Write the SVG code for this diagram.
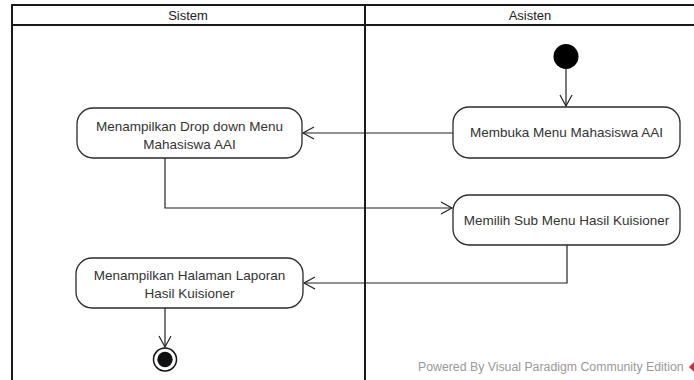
<svg xmlns="http://www.w3.org/2000/svg" width="694" height="380" viewBox="0 0 694 380">
<defs>
<style>
.lane{fill:none;stroke:#1a1a1a;stroke-width:2}
.act{fill:#fff;stroke:#2a2a2a;stroke-width:1.3}
.t{font-family:"Liberation Sans",Arial,sans-serif;font-size:13.5px;fill:#333;text-anchor:middle}
.h{font-family:"Liberation Sans",Arial,sans-serif;font-size:13px;fill:#222;text-anchor:middle}
.c{fill:none;stroke:#222;stroke-width:1.2}
</style>
<marker id="arr" markerWidth="14" markerHeight="14" refX="12" refY="7" orient="auto" markerUnits="userSpaceOnUse">
<path d="M1,1 L12,7 L1,13" fill="none" stroke="#222" stroke-width="1.2"/>
</marker>
</defs>
<rect width="694" height="380" fill="#fff"/>
<g id="lanes">
<path class="lane" d="M12,382 V5 H700 M12,25 H700 M365,5 V382"/>
<text class="h" x="188" y="20">Sistem</text>
<text class="h" x="530" y="20">Asisten</text>
</g>
<g id="connectors">
<path class="c" d="M566,69 V106" marker-end="url(#arr)"/>
<path class="c" d="M453,133 H303" marker-end="url(#arr)"/>
<path class="c" d="M165,158 V208 H452" marker-end="url(#arr)"/>
<path class="c" d="M567,245 V283 H304" marker-end="url(#arr)"/>
<path class="c" d="M165,308 V347" marker-end="url(#arr)"/>
</g>
<g id="start"><circle cx="566" cy="56.5" r="12.5" fill="#000"/></g>
<g id="membuka">
<rect class="act" x="453" y="107" width="227" height="51" rx="16"/>
<text class="t" x="566.5" y="137">Membuka Menu Mahasiswa AAI</text>
</g>
<g id="dropdown">
<rect class="act" x="77" y="108" width="225" height="50" rx="16"/>
<text class="t" x="189.5" y="131">Menampilkan Drop down Menu</text>
<text class="t" x="189.5" y="149">Mahasiswa AAI</text>
</g>
<g id="memilih">
<rect class="act" x="453" y="195" width="227" height="50" rx="16"/>
<text class="t" x="566.5" y="225">Memilih Sub Menu Hasil Kuisioner</text>
</g>
<g id="laporan">
<rect class="act" x="76" y="258" width="227" height="50" rx="16"/>
<text class="t" x="189.5" y="280">Menampilkan Halaman Laporan</text>
<text class="t" x="189.5" y="298">Hasil Kuisioner</text>
</g>
<g id="end">
<circle cx="165" cy="359.5" r="11.5" fill="#fff" stroke="#111" stroke-width="1.5"/>
<circle cx="165" cy="359.5" r="7.7" fill="#111"/>
</g>
<g id="watermark">
<text x="418" y="371" font-family="'Liberation Sans',Arial,sans-serif" font-size="12.3" fill="#999">Powered By  Visual Paradigm Community Edition</text>
<path d="M689,367 L694,362 L694,372 Z" fill="#c8323c"/>
</g>
</svg>
